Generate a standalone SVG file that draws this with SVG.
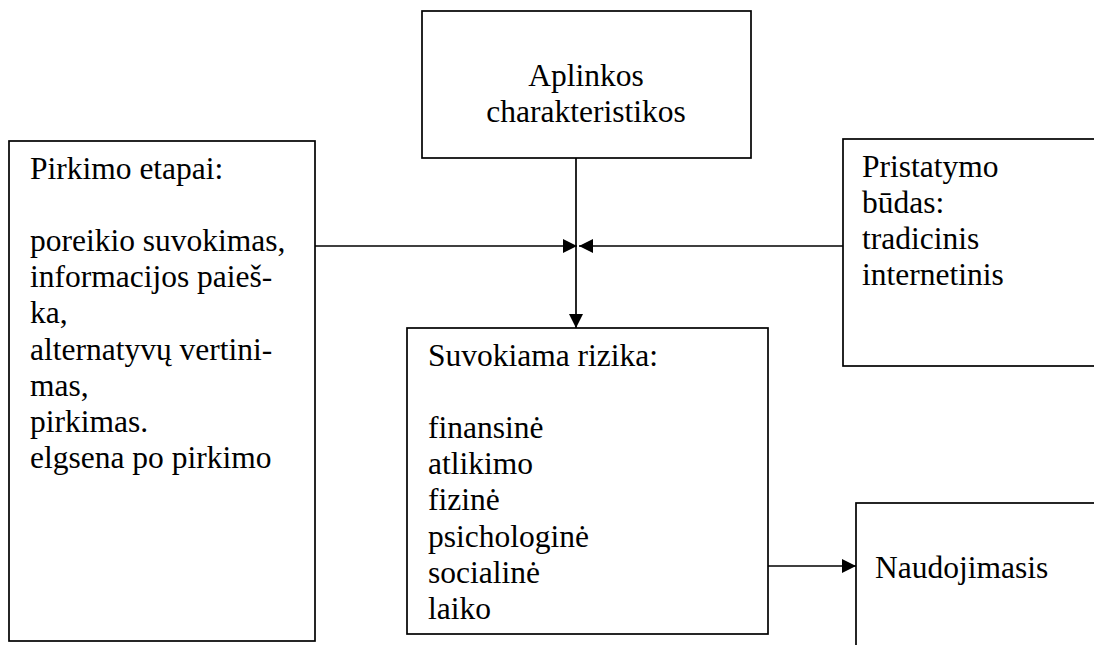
<svg xmlns="http://www.w3.org/2000/svg" width="1094" height="645" viewBox="0 0 1094 645">
<style>
.box{fill:#fff;stroke:#000;stroke-width:1.7}
.t{font-family:'Liberation Serif','Times New Roman',Times,'Noto Serif','DejaVu Serif',serif;font-size:31.5px;fill:#000}
.c{stroke:#000;stroke-width:1.7;fill:none}
</style>
<defs>
<marker id="ah" markerWidth="14" markerHeight="14" viewBox="0 0 14 14" refX="14" refY="7" orient="auto" markerUnits="userSpaceOnUse">
<path d="M0,0 L14,7 L0,14 Z" fill="#000"/>
</marker>
</defs>
<rect width="1094" height="645" fill="#fff"/>
<g id="aplinkos">
<rect class="box" x="422" y="11" width="329" height="147"/>
<text class="t" x="586" y="86" text-anchor="middle">Aplinkos</text>
<text class="t" x="586" y="122" text-anchor="middle">charakteristikos</text>
</g>
<g id="pirkimo">
<rect class="box" x="9" y="141" width="306" height="500"/>
<text class="t" x="30" y="179">Pirkimo etapai:</text>
<text class="t" x="30" y="251">poreikio suvokimas,</text>
<text class="t" x="30" y="287">informacijos paieš-</text>
<text class="t" x="30" y="323">ka,</text>
<text class="t" x="30" y="360">alternatyvų vertini-</text>
<text class="t" x="30" y="396">mas,</text>
<text class="t" x="30" y="432">pirkimas.</text>
<text class="t" x="30" y="468">elgsena po pirkimo</text>
</g>
<g id="pristatymo">
<rect class="box" x="843" y="139" width="260" height="227"/>
<text class="t" x="862" y="177">Pristatymo</text>
<text class="t" x="862" y="213">būdas:</text>
<text class="t" x="862" y="249">tradicinis</text>
<text class="t" x="862" y="285">internetinis</text>
</g>
<g id="suvokiama">
<rect class="box" x="407" y="328" width="361" height="306"/>
<text class="t" x="428" y="366">Suvokiama rizika:</text>
<text class="t" x="428" y="438">finansinė</text>
<text class="t" x="428" y="474">atlikimo</text>
<text class="t" x="428" y="510">fizinė</text>
<text class="t" x="428" y="547">psichologinė</text>
<text class="t" x="428" y="583">socialinė</text>
<text class="t" x="428" y="619">laiko</text>
</g>
<g id="naudojimasis">
<rect class="box" x="856" y="503" width="250" height="160"/>
<text class="t" x="875" y="578">Naudojimasis</text>
</g>
<g id="connectors">
<line class="c" x1="576" y1="158" x2="576" y2="328" marker-end="url(#ah)"/>
<line class="c" x1="315" y1="246" x2="577" y2="246" marker-end="url(#ah)"/>
<line class="c" x1="843" y1="246" x2="579" y2="246" marker-end="url(#ah)"/>
<line class="c" x1="768" y1="566" x2="856" y2="566" marker-end="url(#ah)"/>
</g>
</svg>
